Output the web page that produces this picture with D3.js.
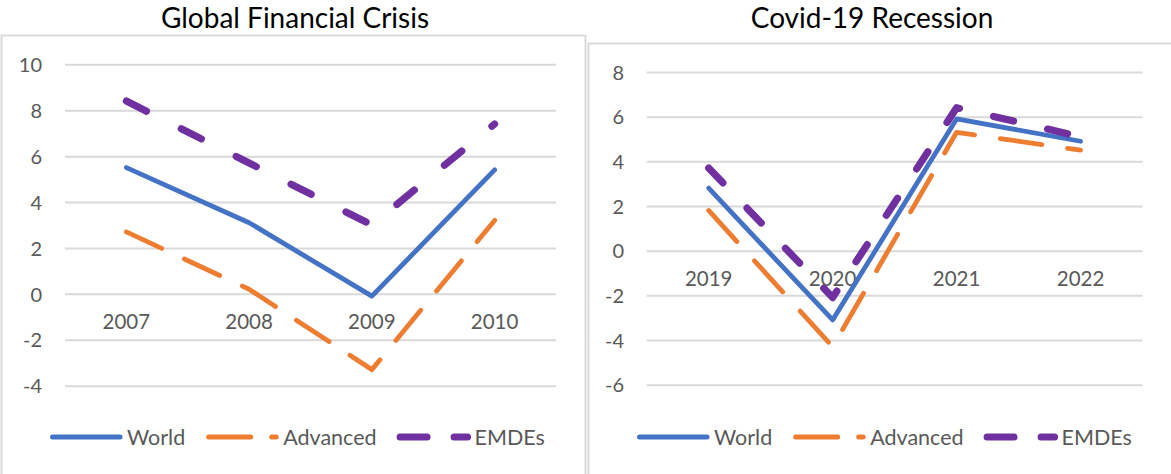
<!DOCTYPE html>
<html>
<head>
<meta charset="utf-8">
<script src="https://cdn.jsdelivr.net/npm/d3@7"></script>
<style>
  body { margin: 0; background: #fff; }
  svg { display: block; font-family: Lato, "Open Sans", sans-serif; }
</style>
</head>
<body>
<script>
// Data
const gfcYears = ["2007", "2008", "2009", "2010"];
const gfcWorld = [5.5, 3.1, -0.1, 5.4];
const gfcAdvanced = [2.7, 0.2, -3.3, 3.2];
const gfcEmdes = [8.4, 5.7, 3.0, 7.4];
const gfcTicks = [-4, -2, 0, 2, 4, 6, 8, 10];

const covidYears = ["2019", "2020", "2021", "2022"];
const covidWorld = [2.8, -3.1, 5.9, 4.9];
const covidAdvanced = [1.8, -4.3, 5.3, 4.5];
const covidEmdes = [3.7, -2.1, 6.4, 5.1];
const covidTicks = [-6, -4, -2, 0, 2, 4, 6, 8];

const seriesNames = ["World", "Advanced", "EMDEs"];

// colours and widths per series (dash patterns differ a bit per panel)
const seriesStyle = {
    World: { color: "#4472C4", width: 4.8, legendDash: null },
    Advanced: { color: "#ED7D31", width: 4.8, legendDash: "42 21" },
    EMDEs: { color: "#7030A0", width: 7.2, legendDash: "27 27" }
};

const svg = d3.select("body")
    .append("svg")
    .attr("width", 1171)
    .attr("height", 474);

function drawPanel(p) {
    const g = svg.append("g");

    // chart frame
    g.append("rect")
        .attr("x", p.box[0])
        .attr("y", p.box[1])
        .attr("width", p.box[2])
        .attr("height", p.box[3])
        .attr("fill", "none")
        .attr("stroke", "#d9d9d9")
        .attr("stroke-width", 2);

    // title
    g.append("text")
        .attr("x", p.titleX)
        .attr("y", 28)
        .attr("text-anchor", "middle")
        .attr("font-size", 28)
        .attr("fill", "#000")
        .text(p.title);

    const x = d3.scaleBand()
        .domain(p.years)
        .range([p.left, p.right])
        .padding(0);

    const y = d3.scaleLinear()
        .domain([p.ticks[0], p.ticks[p.ticks.length - 1]])
        .range([p.bottom, p.top]);

    // gridlines + y labels
    const yAxis = g.append("g")
        .attr("transform", `translate(${p.left},0)`)
        .call(d3.axisLeft(y)
            .tickValues(p.ticks)
            .tickSize(-(p.right - p.left))
            .tickPadding(p.left - p.labelRight)
            .tickFormat(d => String(d)));
    yAxis.select(".domain").remove();
    yAxis.selectAll(".tick line")
        .attr("stroke", "#d9d9d9")
        .attr("stroke-width", 2);
    yAxis.selectAll(".tick text")
        .attr("font-size", 20)
        .attr("font-family", "Lato, sans-serif")
        .attr("fill", "#595959")
        .attr("dy", "0.36em");

    // x labels sit below the zero line
    const xAxis = g.append("g")
        .attr("transform", `translate(0,${y(0)})`)
        .call(d3.axisBottom(x).tickSize(0).tickPadding(21));
    xAxis.select(".domain").remove();
    xAxis.selectAll(".tick text")
        .attr("font-size", 20.5)
        .attr("font-family", "Lato, sans-serif")
        .attr("fill", "#595959");

    const line = d3.line()
        .x((d, i) => x(p.years[i]) + x.bandwidth() / 2)
        .y(d => y(d));

    const seriesValues = [p.world, p.advanced, p.emdes];
    seriesNames.forEach((name, i) => {
        const s = seriesStyle[name];
        g.append("path")
            .datum(seriesValues[i])
            .attr("d", line)
            .attr("fill", "none")
            .attr("stroke", s.color)
            .attr("stroke-width", s.width)
            .attr("stroke-linejoin", "round")
            .attr("stroke-linecap", "round")
            .attr("stroke-dasharray", p.dash[name]);
    });

    // legend
    const lg = g.append("g").attr("transform", `translate(0,${p.legendY})`);
    let cx = p.legendX;
    seriesNames.forEach(name => {
        const s = seriesStyle[name];
        lg.append("line")
            .attr("x1", cx + 2.5)
            .attr("x2", cx + 70)
            .attr("y1", 0)
            .attr("y2", 0)
            .attr("stroke", s.color)
            .attr("stroke-width", name === "EMDEs" ? 7 : 5)
            .attr("stroke-linecap", "round")
            .attr("stroke-dasharray", s.legendDash);
        const t = lg.append("text")
            .attr("x", cx + 77)
            .attr("y", 0)
            .attr("dy", "0.36em")
            .attr("font-size", 21.5)
            .attr("fill", "#595959")
            .text(name);
        cx += 77 + t.node().getComputedTextLength() + 21;
    });
}

drawPanel({
    title: "Global Financial Crisis",
    titleX: 295,
    box: [1.5, 35.5, 584, 460],
    years: gfcYears, world: gfcWorld, advanced: gfcAdvanced, emdes: gfcEmdes,
    ticks: gfcTicks,
    left: 65, right: 556, top: 64.3, bottom: 385.7,
    labelRight: 42,
    dash: { World: null, Advanced: "39 25", EMDEs: "22.5 39" },
    legendX: 50, legendY: 437
});

drawPanel({
    title: "Covid-19 Recession",
    titleX: 872,
    box: [588.5, 43.5, 600, 460],
    years: covidYears, world: covidWorld, advanced: covidAdvanced, emdes: covidEmdes,
    ticks: covidTicks,
    left: 646.7, right: 1142.5, top: 72, bottom: 384.7,
    labelRight: 624,
    dash: { World: null, Advanced: "42 26", EMDEs: "20.5 35" },
    legendX: 637, legendY: 437
});
</script>
</body>
</html>
